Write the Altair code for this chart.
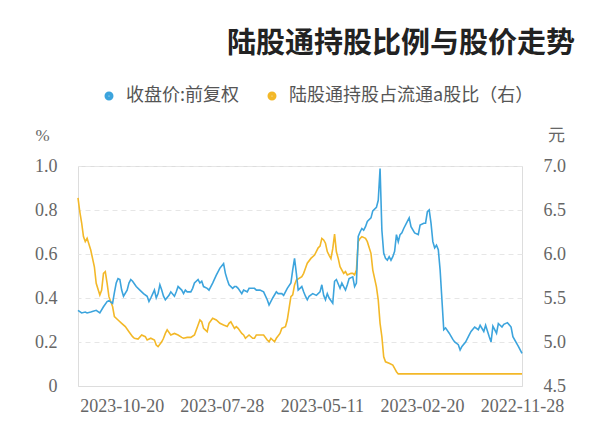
import altair as alt
import pandas as pd

title_text = "陆股通持股比例与股价走势"
series_names = ["收盘价:前复权", "陆股通持股占流通a股比（右）"]
series_colors = ["#3ca4dd", "#f3b828"]

tick_idx = [0, 55, 110, 165, 220]
tick_labels = ["2022-11-28", "2023-02-20", "2023-05-11", "2023-07-28", "2023-10-20"]

price_idx = [0,2,5,6,8,10,11,13,14,16,17,18,20,21,23,24,26,28,29,31,33,34,35,37,38,40,42,43,44,45,46,47,48,49,50,51,52,53,54,56,57,59,61,62,63,65,66,67,68,69,70,71,72,73,74,75,76,77,78,79,80,82,83,85,86,87,88,89,90,91,92,93,95,96,97,99,100,102,103,104,106,107,108,109,110,111,113,115,117,118,119,120,121,123,124,125,126,127,129,131,132,134,135,137,139,140,142,144,146,147,148,150,151,153,154,156,157,158,159,161,162,163,164,166,168,170,172,173,175,176,177,178,180,181,182,184,185,186,187,189,190,191,193,194,196,197,198,199,200,201,202,204,205,206,208,210,212,214,215,216,217,219,220,221,222,223,224,225,227,228,230,232,234,237,239,240,242,244]
price_val = [4.87,4.95,5.06,5.17,5.22,5.20,5.17,5.21,5.10,5.18,5.00,5.06,5.19,5.12,5.19,5.14,5.17,5.12,5.08,5.00,4.95,4.91,4.97,5.00,5.03,5.10,5.16,5.14,5.48,5.82,6.05,6.10,6.07,6.14,6.35,6.50,6.48,6.35,6.35,6.33,6.22,6.24,6.31,6.41,6.37,6.29,6.24,6.22,6.14,6.22,6.03,5.97,5.93,5.97,5.93,5.95,6.01,6.27,6.97,6.61,6.53,6.49,6.41,6.37,6.31,6.27,6.29,6.25,6.20,5.67,5.63,5.74,5.72,5.65,5.59,5.67,5.61,5.71,5.69,5.44,5.50,5.55,5.48,5.53,5.65,5.57,5.53,5.55,5.52,5.48,5.52,5.57,5.63,5.59,5.78,5.95,5.82,5.67,5.61,5.53,5.55,5.55,5.57,5.50,5.42,5.48,5.57,5.59,5.59,5.61,5.61,5.61,5.57,5.59,5.55,5.61,5.63,5.63,5.61,5.65,5.71,5.78,5.89,5.84,5.76,5.67,5.59,5.61,5.63,5.69,5.67,5.71,5.67,5.61,5.57,5.57,5.59,5.55,5.59,5.63,5.57,5.52,5.57,5.53,5.48,5.52,5.59,5.65,5.55,5.50,5.59,5.50,5.46,5.52,5.55,5.59,5.63,5.69,5.71,5.67,5.59,5.52,5.59,5.71,5.72,5.67,5.56,5.44,5.47,5.46,5.40,5.33,5.36,5.34,5.33,5.34,5.33,5.36]

pct_idx = [0,20,40,60,68,69,70,71,73,75,76,77,78,79,80,82,83,85,86,88,89,90,91,92,93,94,96,97,98,100,101,102,103,104,105,106,107,108,109,110,111,112,114,116,118,119,120,121,124,125,126,127,128,129,130,132,133,135,136,138,139,140,142,144,146,147,148,150,152,153,154,156,157,158,159,160,161,162,164,166,168,170,172,173,175,176,177,178,179,180,182,184,186,187,189,191,193,195,196,197,198,200,201,202,204,206,207,209,211,213,214,216,218,220,222,224,225,227,228,229,230,231,232,234,235,237,239,240,241,242,243,244]
pct_val = [0.055,0.055,0.055,0.055,0.055,0.065,0.08,0.095,0.103,0.11,0.133,0.224,0.285,0.391,0.451,0.527,0.603,0.656,0.671,0.679,0.671,0.656,0.527,0.505,0.512,0.512,0.505,0.52,0.512,0.542,0.58,0.61,0.69,0.624,0.579,0.594,0.611,0.649,0.664,0.671,0.636,0.628,0.595,0.58,0.558,0.535,0.512,0.497,0.482,0.459,0.414,0.406,0.353,0.30,0.27,0.262,0.239,0.217,0.201,0.217,0.201,0.209,0.232,0.232,0.232,0.217,0.217,0.232,0.217,0.232,0.239,0.262,0.27,0.262,0.277,0.292,0.285,0.27,0.277,0.285,0.30,0.308,0.285,0.247,0.262,0.292,0.30,0.277,0.255,0.232,0.221,0.221,0.217,0.221,0.232,0.239,0.232,0.255,0.239,0.217,0.201,0.179,0.186,0.209,0.217,0.209,0.224,0.232,0.213,0.217,0.224,0.247,0.27,0.285,0.30,0.315,0.361,0.406,0.467,0.52,0.512,0.436,0.414,0.467,0.542,0.618,0.671,0.656,0.679,0.742,0.791,0.855]

price_df = pd.DataFrame({"idx": price_idx, "val": price_val, "series": series_names[0]})
pct_df = pd.DataFrame({"idx": pct_idx, "val": pct_val, "series": series_names[1]})

label_expr = " : ".join(
    [f"datum.value == {i} ? '{l}'" for i, l in zip(tick_idx, tick_labels)]
) + " : ''"

axis_font = "'Liberation Serif', 'DejaVu Serif', serif"
label_color = "#666666"
label_size = 18

x_enc = alt.X(
    "idx:Q",
    scale=alt.Scale(domain=[0, 244], reverse=True, nice=False, zero=False),
    axis=alt.Axis(
        values=tick_idx, labelExpr=label_expr, title=None, grid=False,
        ticks=False, domain=True, domainColor="#dddddd", labelPadding=11,
        labelFont=axis_font, labelFontSize=label_size, labelColor=label_color,
        labelOverlap=False, labelFlush=False,
    ),
)

color_enc = alt.Color(
    "series:N",
    scale=alt.Scale(domain=series_names, range=series_colors),
    legend=alt.Legend(
        orient="none", direction="horizontal", title=None,
        legendX=22, legendY=-79, symbolType="circle", symbolSize=16,
        symbolStrokeWidth=5, labelFont="Noto Sans CJK SC", labelFontSize=18,
        labelColor="#555555", columnPadding=20, labelOffset=8, labelLimit=0,
    ),
)

pct_line = alt.Chart(pct_df).mark_line(strokeWidth=1.6).encode(
    x=x_enc,
    y=alt.Y(
        "val:Q",
        scale=alt.Scale(domain=[0, 1.0], nice=False),
        axis=alt.Axis(
            orient="left", values=[0, 0.2, 0.4, 0.6, 0.8, 1.0],
            labelExpr="datum.value == 0 ? '0' : format(datum.value, '.1f')",
            title="%", titleAngle=0, titleX=-36, titleY=-31, titleAlign="center",
            titleBaseline="middle", titleFont=axis_font, titleFontSize=17,
            titleFontWeight="normal", titleColor=label_color,
            grid=True, gridColor="#e6e6e6", gridDash=[5, 4], ticks=False,
            domain=False, labelPadding=21, labelFont=axis_font,
            labelFontSize=label_size, labelColor=label_color,
        ),
    ),
    color=color_enc,
)

price_line = alt.Chart(price_df).mark_line(strokeWidth=1.6).encode(
    x=x_enc,
    y=alt.Y(
        "val:Q",
        scale=alt.Scale(domain=[4.5, 7.0], nice=False, zero=False),
        axis=alt.Axis(
            orient="right", values=[4.5, 5.0, 5.5, 6.0, 6.5, 7.0], format=".1f",
            title="元", titleAngle=0, titleX=34, titleY=-31, titleAlign="center",
            titleBaseline="middle", titleFont="Noto Sans CJK SC", titleFontSize=17,
            titleFontWeight="normal", titleColor=label_color,
            grid=False, ticks=False, domain=False, labelPadding=21,
            labelFont=axis_font, labelFontSize=label_size, labelColor=label_color,
        ),
    ),
    color=color_enc,
)

chart = (
    alt.layer(pct_line, price_line)
    .resolve_scale(y="independent")
    .properties(
        width=444,
        height=220,
        autosize=alt.AutoSizeParams(type="none"),
        padding={"left": 78, "top": 166, "right": 78, "bottom": 60},
        title=alt.TitleParams(
            text=title_text, anchor="end", frame="group", dx=53, offset=28,
            font="Noto Sans CJK SC", fontSize=29, fontWeight="bold", color="#222222",
        ),
    )
    .configure_view(stroke=None)
    .configure(background="white")
)

chart.save("out.html", embed_options={"renderer": "svg", "actions": False})
